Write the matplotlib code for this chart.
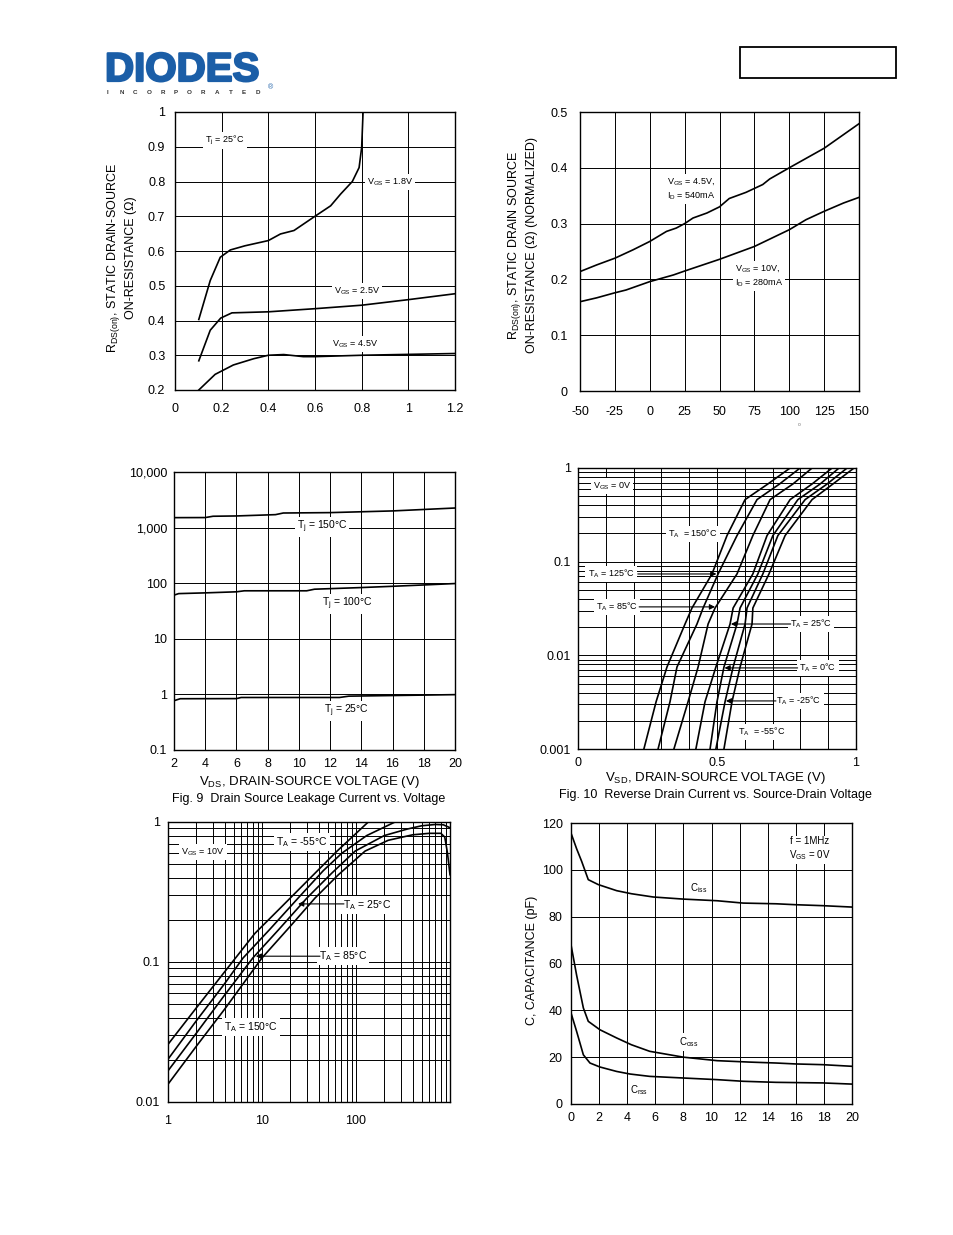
import numpy as np
import matplotlib
matplotlib.use('Agg')
import matplotlib.pyplot as plt
import matplotlib.patheffects as pe
from matplotlib.ticker import LogLocator, NullFormatter, FixedLocator, MultipleLocator
from matplotlib.patches import Rectangle

plt.rcParams['font.family'] = ['Liberation Sans', 'DejaVu Sans']
plt.rcParams['mathtext.fontset'] = 'custom'
plt.rcParams['mathtext.rm'] = 'Liberation Sans'
plt.rcParams['axes.unicode_minus'] = False

# Fig 7: on-resistance vs drain current
id_18 = [0.102, 0.151, 0.194, 0.237, 0.3, 0.4, 0.452, 0.51, 0.6, 0.667, 0.71, 0.76, 0.789, 0.80, 0.806]
r_18 = [0.403, 0.515, 0.582, 0.603, 0.615, 0.63, 0.649, 0.659, 0.70, 0.73, 0.764, 0.80, 0.84, 0.898, 1.0]
id_25 = [0.102, 0.151, 0.196, 0.244, 0.4, 0.6, 0.8, 1.0, 1.2]
r_25 = [0.284, 0.372, 0.407, 0.422, 0.425, 0.434, 0.444, 0.46, 0.477]
id_45 = [0.102, 0.172, 0.25, 0.337, 0.4, 0.466, 0.55, 0.6, 0.8, 1.2]
r_45 = [0.2, 0.245, 0.272, 0.29, 0.3, 0.302, 0.296, 0.296, 0.30, 0.305]

# Fig 8: on-resistance vs temperature
t_a = [-50, -38, -25, -12, 0, 12, 19, 25, 31, 41, 50, 57, 69, 75, 81, 86, 100, 125, 150]
r_a = [0.214, 0.226, 0.238, 0.253, 0.268, 0.286, 0.292, 0.30, 0.31, 0.319, 0.33, 0.345,
       0.356, 0.363, 0.37, 0.38, 0.40, 0.435, 0.479]
t_b = [-50, -38, -25, -17, 0, 17, 25, 50, 75, 100, 112, 125, 139, 150]
r_b = [0.16, 0.167, 0.176, 0.181, 0.196, 0.208, 0.215, 0.236, 0.259, 0.289, 0.307, 0.322, 0.337, 0.347]

# Fig 9: leakage current vs VDS
v_150 = [2, 4, 4.5, 6, 8.5, 9, 12, 16, 20]
i_150 = [1510, 1515, 1600, 1620, 1710, 1830, 1860, 1995, 2250]
v_100 = [2, 2.3, 4, 6, 6.5, 10.5, 11, 14, 16, 18, 20]
i_100 = [61, 65, 67, 70, 73, 73, 78, 83.5, 88, 93, 98.6]
v_25 = [2, 2.4, 6, 6.3, 12.6, 13.2, 20]
i_25 = [0.77, 0.836, 0.84, 0.88, 0.88, 0.93, 0.99]

# Fig 10: reverse drain current vs VSD (same current levels for every curve)
isd_levels = [0.001, 0.0032, 0.0075, 0.0216, 0.032, 0.074, 0.19, 0.46, 0.675, 1.0]
vsd_curves = {
    '150': [0.237, 0.281, 0.320, 0.385, 0.410, 0.482, 0.536, 0.601, 0.683, 0.763],
    '125': [0.288, 0.331, 0.356, 0.428, 0.450, 0.504, 0.572, 0.644, 0.725, 0.799],
    '85': [0.345, 0.396, 0.432, 0.468, 0.493, 0.572, 0.629, 0.691, 0.773, 0.842],
    '25': [0.424, 0.457, 0.496, 0.547, 0.558, 0.629, 0.680, 0.763, 0.842, 0.914],
    '0': [0.475, 0.500, 0.525, 0.572, 0.583, 0.647, 0.701, 0.791, 0.871, 0.939],
    '-25': [0.496, 0.529, 0.558, 0.601, 0.608, 0.665, 0.719, 0.817, 0.896, 0.968],
    '-55': [0.525, 0.554, 0.583, 0.626, 0.629, 0.687, 0.745, 0.842, 0.917, 0.993],
}

# Fig 11 (log-log)
x_m55 = [1, 2, 4, 8.4, 15, 27.5, 62, 135]
y_m55 = [0.0258, 0.047, 0.085, 0.160, 0.236, 0.355, 0.614, 1.0]
x_p25 = [1, 2, 4, 6.3, 12, 24.2, 45, 71, 130, 260]
y_p25 = [0.0202, 0.038, 0.070, 0.107, 0.17, 0.286, 0.45, 0.60, 0.80, 1.0]
x_p85 = [1, 2, 4, 8, 15, 30, 55, 98, 200, 350, 500, 700, 850, 1000]
y_p85 = [0.0167, 0.031, 0.058, 0.107, 0.17, 0.286, 0.43, 0.62, 0.80, 0.89, 0.94, 0.96, 0.955, 0.91]
x_150 = [1, 2, 4, 10, 20, 36.6, 65, 125, 220, 400, 600, 800, 880, 940, 1000]
y_150 = [0.0134, 0.025, 0.046, 0.107, 0.18, 0.286, 0.42, 0.62, 0.74, 0.81, 0.83, 0.83, 0.78, 0.6, 0.42]

# Fig 12: capacitance
v_c = [0, 0.4, 0.76, 1.23, 1.94, 3.25, 4.3, 5.85, 8, 10.4, 12.25, 14.6, 16, 17.9, 20]
c_iss = [115.7, 109, 103.6, 95.8, 93.7, 91.1, 89.8, 88.4, 87.5, 86.8, 85.8, 85.5, 85.1, 84.7, 84.1]
v_o = [0, 0.4, 0.88, 1.23, 2.06, 3.25, 4.3, 5.6, 8, 10.4, 12.7, 14.6, 16, 17.9, 20]
c_oss = [68, 55, 41, 35.3, 31.7, 28.2, 25.3, 22.5, 20, 18.5, 17.9, 17.5, 17.1, 16.8, 16.1]
v_r = [0, 0.4, 0.88, 1.35, 2.06, 3.25, 4.2, 5.6, 8, 10.4, 12.25, 14.6, 17.9, 20]
c_rss = [38.9, 31, 21, 17.5, 15.8, 13.9, 12.8, 11.8, 11.1, 10.4, 9.7, 9.25, 9.0, 8.5]

W, H = 954, 1235
fig = plt.figure(figsize=(W / 100, H / 100), dpi=100)

LW = 1.2
GRID = dict(color='black', lw=0.7)
box = dict(facecolor='white', edgecolor='none', pad=1.5)


def make_ax(x0, y0, x1, y1):
    ax = fig.add_axes([x0 / W, 1 - y1 / H, (x1 - x0) / W, (y1 - y0) / H])
    for s in ax.spines.values():
        s.set_linewidth(1.0)
    ax.tick_params(length=0, labelsize=9)
    return ax


def label(ax, x, y, s, size=6.5, ha='center'):
    ax.text(x, y, s, fontsize=size, ha=ha, va='center', bbox=box, zorder=5)


def arrow(ax, x0, x1, y):
    ax.annotate('', xy=(x1, y), xytext=(x0, y), zorder=6,
                arrowprops=dict(arrowstyle='-|>', color='black', lw=0.8, mutation_scale=8,
                                shrinkA=0, shrinkB=0))


# ---------- logo and header box
fig.text(105 / W, 1 - 70 / H, 'DIODES', fontsize=29, fontweight='bold', color='#1b5ea7',
         ha='left', va='center',
         path_effects=[pe.withStroke(linewidth=1.6, foreground='#1b5ea7')])
for i, ch in enumerate('INCORPORATED'):
    fig.text((108 + i * 13.6) / W, 1 - 93 / H, ch, fontsize=4.5, fontweight='bold',
             color='#333333', ha='center', va='center')
fig.text(271 / W, 1 - 88 / H, '®', fontsize=5, color='#1b5ea7', ha='center', va='center')
fig.patches.append(Rectangle((740 / W, 1 - 78 / H), 156 / W, 31 / H, transform=fig.transFigure,
                             fill=False, edgecolor='black', lw=1.3))

# ---------- Fig 7
ax1 = make_ax(175, 112, 455, 390)
ax1.set_xlim(0, 1.2)
ax1.set_ylim(0.2, 1.0)
ax1.set_xticks([0, 0.2, 0.4, 0.6, 0.8, 1.0, 1.2])
ax1.set_xticklabels(['0', '0.2', '0.4', '0.6', '0.8', '1', '1.2'])
ax1.set_yticks(np.arange(0.2, 1.01, 0.1))
ax1.set_yticklabels(['0.2', '0.3', '0.4', '0.5', '0.6', '0.7', '0.8', '0.9', '1'])
ax1.tick_params(axis='x', pad=9)
ax1.tick_params(axis='y', pad=7)
ax1.grid(True, **GRID)
ax1.plot(id_18, r_18, color='black', lw=LW)
ax1.plot(id_25, r_25, color='black', lw=LW)
ax1.plot(id_45, r_45, color='black', lw=LW)
label(ax1, 0.214, 0.919, r'T$_\mathregular{j}$ = 25°C')
label(ax1, 0.921, 0.799, r'V$_\mathregular{GS}$ = 1.8V')
label(ax1, 0.78, 0.485, r'V$_\mathregular{GS}$ = 2.5V')
label(ax1, 0.771, 0.332, r'V$_\mathregular{GS}$ = 4.5V')
fig.text(121 / W, 1 - 258 / H, 'R$_\\mathregular{DS(on)}$, STATIC DRAIN-SOURCE\nON-RESISTANCE (Ω)',
         rotation=90, fontsize=9, ha='center', va='center', linespacing=1.25)

# ---------- Fig 8
ax2 = make_ax(580, 112, 859, 391)
ax2.set_xlim(-50, 150)
ax2.set_ylim(0, 0.5)
ax2.set_xticks(np.arange(-50, 151, 25))
ax2.set_yticks(np.arange(0, 0.51, 0.1))
ax2.set_yticklabels(['0', '0.1', '0.2', '0.3', '0.4', '0.5'])
ax2.tick_params(axis='x', pad=11)
ax2.tick_params(axis='y', pad=9)
ax2.grid(True, **GRID)
ax2.plot(t_a, r_a, color='black', lw=LW)
ax2.plot(t_b, r_b, color='black', lw=LW)
label(ax2, 12.4, 0.362, 'V$_\\mathregular{GS}$ = 4.5V,\nI$_\\mathregular{D}$ = 540mA', ha='left')
label(ax2, 61.1, 0.206, 'V$_\\mathregular{GS}$ = 10V,\nI$_\\mathregular{D}$ = 280mA', ha='left')
fig.text(799 / W, 1 - 424 / H, 'o', fontsize=3.5, color='#777777', ha='center', va='center')
fig.text(522 / W, 1 - 245 / H,
         'R$_\\mathregular{DS(on)}$, STATIC DRAIN SOURCE\nON-RESISTANCE (Ω) (NORMALIZED)',
         rotation=90, fontsize=9, ha='center', va='center', linespacing=1.25)

# ---------- Fig 9
ax3 = make_ax(174, 472, 455, 750)
ax3.set_xlim(2, 20)
ax3.set_yscale('log')
ax3.set_ylim(0.1, 10000)
ax3.set_xticks(np.arange(2, 21, 2))
ax3.yaxis.set_major_locator(FixedLocator([0.1, 1, 10, 100, 1000, 10000]))
ax3.set_yticklabels(['0.1', '1', '10', '100', '1,000', '10,000'])
ax3.yaxis.set_minor_locator(FixedLocator([]))
ax3.tick_params(axis='x', pad=6)
ax3.tick_params(axis='y', pad=5)
ax3.grid(True, **GRID)
ax3.plot(v_150, i_150, color='black', lw=LW)
ax3.plot(v_100, i_100, color='black', lw=LW)
ax3.plot(v_25, i_25, color='black', lw=LW)
label(ax3, 11.48, 1023, r'T$_\mathregular{j}$ = 150°C', size=7.5)
label(ax3, 13.08, 42.3, r'T$_\mathregular{j}$ = 100°C', size=7.5)
label(ax3, 13.02, 0.50, r'T$_\mathregular{j}$ = 25°C', size=7.5)
fig.text(309 / W, 1 - 782 / H, r'V$_\mathregular{DS}$, DRAIN-SOURCE VOLTAGE (V)', fontsize=9.5,
         ha='center', va='center')
fig.text(309 / W, 1 - 799 / H, 'Fig. 9  Drain Source Leakage Current vs. Voltage', fontsize=9,
         ha='center', va='center')

# ---------- Fig 10
ax4 = make_ax(578, 468, 856, 749)
ax4.set_xlim(0, 1)
ax4.set_yscale('log')
ax4.set_ylim(0.001, 1)
ax4.set_xticks([0, 0.5, 1])
ax4.set_xticklabels(['0', '0.5', '1'])
ax4.xaxis.set_minor_locator(MultipleLocator(0.1))
ax4.yaxis.set_major_locator(FixedLocator([0.001, 0.01, 0.1, 1]))
ax4.set_yticklabels(['0.001', '0.01', '0.1', '1'])
ax4.yaxis.set_minor_locator(LogLocator(base=10, subs=np.arange(2, 10)))
ax4.yaxis.set_minor_formatter(NullFormatter())
ax4.tick_params(which='both', length=0)
ax4.tick_params(axis='x', pad=6)
ax4.tick_params(axis='y', pad=5)
ax4.grid(True, which='both', **GRID)
for key, xs in vsd_curves.items():
    ax4.plot(xs, isd_levels, color='black', lw=LW)
label(ax4, 0.122, 0.643, r'V$_\mathregular{GS}$ = 0V')
label(ax4, 0.414, 0.198, r'T$_\mathregular{A}$  = 150°C')
label(ax4, 0.119, 0.0739, r'T$_\mathregular{A}$ = 125°C')
arrow(ax4, 0.215, 0.498, 0.0739)
label(ax4, 0.14, 0.0329, r'T$_\mathregular{A}$ = 85°C')
arrow(ax4, 0.22, 0.493, 0.0329)
label(ax4, 0.838, 0.0216, r'T$_\mathregular{A}$ = 25°C')
arrow(ax4, 0.765, 0.55, 0.0216)
label(ax4, 0.863, 0.00734, r'T$_\mathregular{A}$ = 0°C')
arrow(ax4, 0.79, 0.527, 0.00734)
label(ax4, 0.795, 0.00326, r'T$_\mathregular{A}$ = -25°C')
arrow(ax4, 0.712, 0.532, 0.00326)
label(ax4, 0.662, 0.00152, r'T$_\mathregular{A}$  = -55°C')
fig.text(715 / W, 1 - 778 / H, r'V$_\mathregular{SD}$, DRAIN-SOURCE VOLTAGE (V)', fontsize=9.5,
         ha='center', va='center')
fig.text(715 / W, 1 - 795 / H, 'Fig. 10  Reverse Drain Current vs. Source-Drain Voltage',
         fontsize=9, ha='center', va='center')

# ---------- Fig 11
ax5 = make_ax(168, 822, 450, 1102)
ax5.set_xscale('log')
ax5.set_yscale('log')
ax5.set_xlim(1, 1000)
ax5.set_ylim(0.01, 1)
ax5.xaxis.set_major_locator(FixedLocator([1, 10, 100, 1000]))
ax5.set_xticklabels(['1', '10', '100', ''])
ax5.yaxis.set_major_locator(FixedLocator([0.01, 0.1, 1]))
ax5.set_yticklabels(['0.01', '0.1', '1'])
for a in (ax5.xaxis, ax5.yaxis):
    a.set_minor_locator(LogLocator(base=10, subs=np.arange(2, 10)))
    a.set_minor_formatter(NullFormatter())
ax5.tick_params(which='both', length=0)
ax5.tick_params(axis='x', pad=9)
ax5.tick_params(axis='y', pad=6)
ax5.grid(True, which='both', **GRID)
ax5.plot(x_m55, y_m55, color='black', lw=LW)
ax5.plot(x_p25, y_p25, color='black', lw=LW)
ax5.plot(x_p85, y_p85, color='black', lw=LW)
ax5.plot(x_150, y_150, color='black', lw=LW)
label(ax5, 2.36, 0.61, r'V$_\mathregular{GS}$ = 10V')
label(ax5, 26.7, 0.72, r'T$_\mathregular{A}$ = -55°C', size=7.5)
label(ax5, 131, 0.255, r'T$_\mathregular{A}$ = 25°C', size=7.5)
arrow(ax5, 74.5, 24.2, 0.26)
label(ax5, 72.7, 0.110, r'T$_\mathregular{A}$ = 85°C', size=7.5)
arrow(ax5, 41.4, 8.6, 0.110)
label(ax5, 7.64, 0.0343, r'T$_\mathregular{A}$ = 150°C', size=7.5)

# ---------- Fig 12
ax6 = make_ax(571, 823, 852, 1104)
ax6.set_xlim(0, 20)
ax6.set_ylim(0, 120)
ax6.set_xticks(np.arange(0, 21, 2))
ax6.set_yticks(np.arange(0, 121, 20))
ax6.tick_params(axis='x', pad=6)
ax6.tick_params(axis='y', pad=6)
ax6.grid(True, **GRID)
ax6.plot(v_c, c_iss, color='black', lw=LW)
ax6.plot(v_o, c_oss, color='black', lw=LW)
ax6.plot(v_r, c_rss, color='black', lw=LW)
label(ax6, 9.11, 92.2, r'C$_\mathregular{iss}$', size=7)
label(ax6, 8.4, 26.5, r'C$_\mathregular{oss}$', size=7)
label(ax6, 4.84, 6.0, r'C$_\mathregular{rss}$', size=7)
label(ax6, 17.0, 108.9, 'f = 1MHz\nV$_\\mathregular{GS}$ = 0V', size=7)
fig.text(532 / W, 1 - 960 / H, 'C, CAPACITANCE (pF)', rotation=90, fontsize=9,
         ha='center', va='center')

fig.savefig('out.png', dpi=100, facecolor='white')
